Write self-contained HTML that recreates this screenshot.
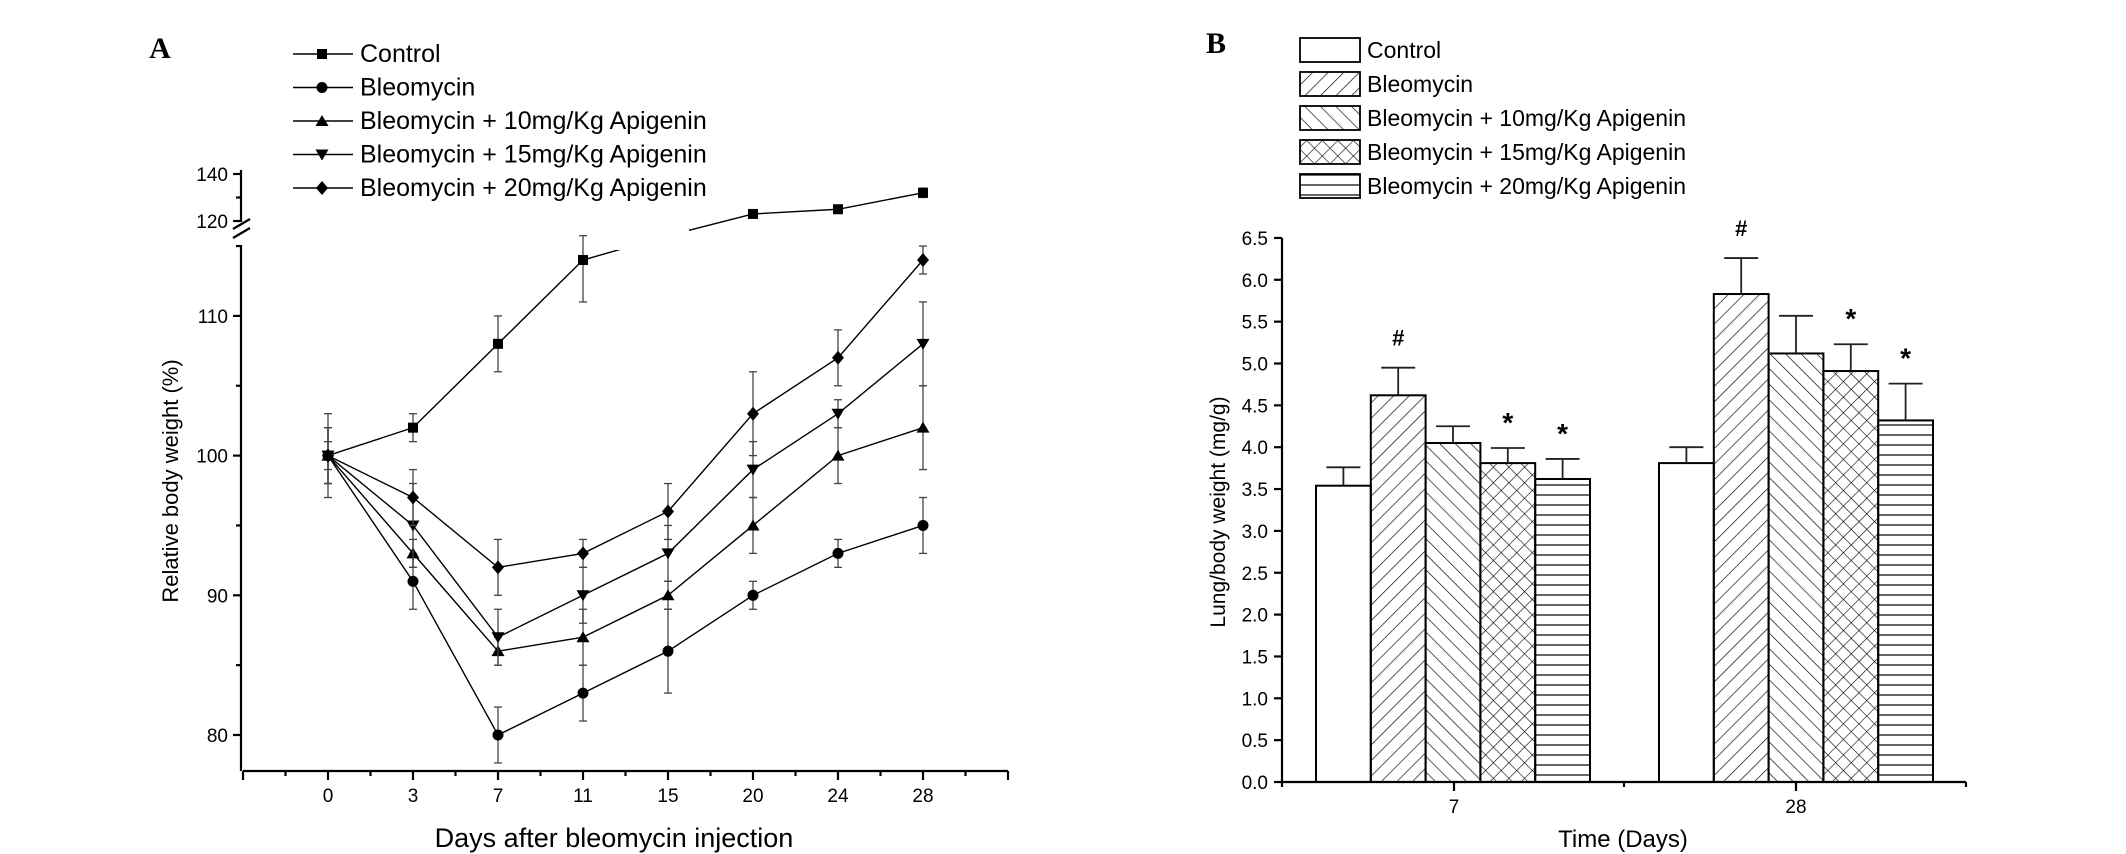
<!DOCTYPE html>
<html><head><meta charset="utf-8"><style>
html,body{margin:0;padding:0;background:#fff;}
svg{display:block;font-family:"Liberation Sans",sans-serif;}
</style></head><body>
<svg id="fig" width="2126" height="854" viewBox="0 0 2126 854" xmlns="http://www.w3.org/2000/svg">
<defs>
<pattern id="pFwd" patternUnits="userSpaceOnUse" width="11" height="11" patternTransform="rotate(45)"><line x1="0" y1="0" x2="0" y2="11" stroke="#000" stroke-width="1.3"/></pattern>
<pattern id="pBack" patternUnits="userSpaceOnUse" width="11" height="11" patternTransform="rotate(-45)"><line x1="0" y1="0" x2="0" y2="11" stroke="#000" stroke-width="1.3"/></pattern>
<pattern id="pCross" patternUnits="userSpaceOnUse" width="11" height="11" patternTransform="rotate(45)"><line x1="0" y1="0" x2="0" y2="11" stroke="#000" stroke-width="1.2"/><line x1="0" y1="0" x2="11" y2="0" stroke="#000" stroke-width="1.2"/></pattern>
<pattern id="pHoriz" patternUnits="userSpaceOnUse" width="10" height="10"><line x1="0" y1="5" x2="10" y2="5" stroke="#000" stroke-width="1.2"/></pattern>
</defs>
<g id="panelA"></g>
<g id="panelB"></g>
</svg>
<script>
// ---- Panel A data ----
const daysA = ["0","3","7","11","15","20","24","28"];
const seriesNamesA = ["Control","Bleomycin","Bleomycin + 10mg/Kg Apigenin","Bleomycin + 15mg/Kg Apigenin","Bleomycin + 20mg/Kg Apigenin"];
const controlA = [100,102,108,114,117,123,125,132];
const controlErrA = [3,1,2,3,0,1,1,2];
const bleoA = [100,91,80,83,86,90,93,95];
const bleoErrA = [2,2,2,2,3,1,1,2];
const api10A = [100,93,86,87,90,95,100,102];
const api10ErrA = [1,1,1,2,1,2,2,3];
const api15A = [100,95,87,90,93,99,103,108];
const api15ErrA = [2,3,2,2,2,2,1,3];
const api20A = [100,97,92,93,96,103,107,114];
const api20ErrA = [2,2,2,1,2,3,2,1];
const lowerTicksA = [80,90,100,110];
const upperTicksA = [120,140];
// ---- Panel B data ----
const timesB = ["7","28"];
const groupNamesB = ["Control","Bleomycin","Bleomycin + 10mg/Kg Apigenin","Bleomycin + 15mg/Kg Apigenin","Bleomycin + 20mg/Kg Apigenin"];
const controlB = [3.54,3.81];
const controlErrB = [0.22,0.19];
const bleoB = [4.62,5.83];
const bleoErrB = [0.33,0.43];
const api10B = [4.05,5.12];
const api10ErrB = [0.20,0.45];
const api15B = [3.81,4.91];
const api15ErrB = [0.18,0.32];
const api20B = [3.62,4.32];
const api20ErrB = [0.24,0.44];
const marksB = [["","#","","*","*"],["","#","","*","*"]];
const ticksB = [0,0.5,1,1.5,2,2.5,3,3.5,4,4.5,5,5.5,6,6.5];

const NS="http://www.w3.org/2000/svg";
function mk(tag,attrs,parent,text){const e=document.createElementNS(NS,tag);for(const k in attrs)e.setAttribute(k,attrs[k]);if(text!==undefined)e.textContent=text;parent.appendChild(e);return e;}

// ===== Panel A =====
const A=document.getElementById('panelA');
const xA=i=>328+85*i;
function yA(v){ if(v<=115.1) return 735-(v-80)*13.97; if(v>=120) return 221-(v-120)*2.35; return 245-(v-115.1)/(4.9)*24; }
let t=mk('text',{x:160,y:58,'font-family':'Liberation Serif,serif','font-weight':'bold','font-size':30,'text-anchor':'middle'},A,'A');


let ax=mk('g',{stroke:'#000','stroke-width':2.2,fill:'none'},A);


mk('line',{x1:243,y1:771,x2:1008,y2:771},ax);
mk('line',{x1:241,y1:245,x2:241,y2:771},ax);
mk('line',{x1:241,y1:170,x2:241,y2:222},ax);
mk('line',{x1:233,y1:229,x2:250,y2:219},ax);
mk('line',{x1:233,y1:238,x2:250,y2:228},ax);
for(let i=-1;i<=8;i++){mk('line',{x1:xA(i),y1:771,x2:xA(i),y2:780},ax); if(i<8) mk('line',{x1:xA(i)+42.5,y1:771,x2:xA(i)+42.5,y2:776},ax);}
daysA.forEach((d,i)=>{const e=mk('text',{x:xA(i),y:802,'font-size':19,'text-anchor':'middle'},A,d);

});
lowerTicksA.forEach(v=>{mk('line',{x1:233,y1:yA(v),x2:241,y2:yA(v)},ax);
const e=mk('text',{x:228,y:yA(v)+7,'font-size':19,'text-anchor':'end'},A,String(v));


mk('line',{x1:236,y1:yA(v+5),x2:241,y2:yA(v+5)},ax);});
upperTicksA.forEach(v=>{mk('line',{x1:233,y1:yA(v),x2:241,y2:yA(v)},ax);
const e=mk('text',{x:228,y:yA(v)+7,'font-size':19,'text-anchor':'end'},A,String(v));

});
mk('line',{x1:236,y1:yA(130),x2:241,y2:yA(130)},ax);
t=mk('text',{x:0,y:0,'font-size':22,'text-anchor':'middle',transform:'translate(178,481) rotate(-90)'},A,'Relative body weight (%)');


t=mk('text',{x:614,y:847,'font-size':27,'text-anchor':'middle'},A,'Days after bleomycin injection');



function marker(g,shape,x,y){
 if(shape==='sq') return mk('rect',{x:x-5,y:y-5,width:10,height:10,fill:'#000'},g);
 if(shape==='ci') return mk('circle',{cx:x,cy:y,r:5.5,fill:'#000'},g);
 if(shape==='up') return mk('polygon',{points:`${x},${y-6} ${x-6.5},${y+5} ${x+6.5},${y+5}`,fill:'#000'},g);
 if(shape==='dn') return mk('polygon',{points:`${x},${y+6} ${x-6.5},${y-5} ${x+6.5},${y-5}`,fill:'#000'},g);
 return mk('polygon',{points:`${x},${y-7} ${x+6},${y} ${x},${y+7} ${x-6},${y}`,fill:'#000'},g);
}
const seriesA=[[controlA,controlErrA,'sq','control'],[bleoA,bleoErrA,'ci','bleomycin'],[api10A,api10ErrA,'up','apigenin-10'],[api15A,api15ErrA,'dn','apigenin-15'],[api20A,api20ErrA,'di','apigenin-20']];
seriesA.forEach(([vals,errs,shape,nm],si)=>{
 const g=mk('g',{},A);
 
 
 mk('polyline',{points:vals.map((v,i)=>xA(i)+','+yA(v)).join(' '),fill:'none',stroke:'#000','stroke-width':1.4},g);
 if(si===0) mk('rect',{x:600,y:224,width:89,height:26,fill:'#fff'},g);
 vals.forEach((v,i)=>{
  if(si===0&&i===4) return;
  const e=errs[i];
  if(e>0){const eb=mk('g',{stroke:'#444','stroke-width':1.3},g);
  
  
  mk('line',{x1:xA(i),y1:yA(v-e),x2:xA(i),y2:yA(v+e)},eb);
  mk('line',{x1:xA(i)-4,y1:yA(v-e),x2:xA(i)+4,y2:yA(v-e)},eb);
  mk('line',{x1:xA(i)-4,y1:yA(v+e),x2:xA(i)+4,y2:yA(v+e)},eb);}
  const m=marker(g,shape,xA(i),yA(v));
  
  
 });
});
const legA=mk('g',{},A);


seriesNamesA.forEach((n,i)=>{
 const y=54+33.5*i;
 const g=mk('g',{},legA);
 
 
 mk('line',{x1:293,y1:y,x2:353,y2:y,stroke:'#000','stroke-width':1.4},g);
 marker(g,seriesA[i][2],322,y);
 mk('text',{x:360,y:y+8,'font-size':25},g,n);
});

// ===== Panel B =====
const B=document.getElementById('panelB');
const yB=v=>782-v*83.7;
const groupStart=[1316,1659], bw=54.8;
t=mk('text',{x:1216,y:53,'font-family':'Liberation Serif,serif','font-weight':'bold','font-size':30,'text-anchor':'middle'},B,'B');


const fills=['#fff','url(#pFwd)','url(#pBack)','url(#pCross)','url(#pHoriz)'];
const valsB=[controlB,bleoB,api10B,api15B,api20B], errsB=[controlErrB,bleoErrB,api10ErrB,api15ErrB,api20ErrB];
const slug=['control','bleomycin','apigenin-10','apigenin-15','apigenin-20'];
timesB.forEach((tm,gi)=>{
 valsB.forEach((arr,si)=>{
  const v=arr[gi], e=errsB[si][gi], x=groupStart[gi]+si*bw, cx=x+bw/2;
  const r=mk('rect',{x:x,y:yB(v),width:bw,height:yB(0)-yB(v),fill:fills[si],stroke:'#000','stroke-width':2},B);
  
  
  const eb=mk('g',{stroke:'#222','stroke-width':1.8},B);
  
  
  mk('line',{x1:cx,y1:yB(v),x2:cx,y2:yB(v+e)},eb);
  mk('line',{x1:cx-17,y1:yB(v+e),x2:cx+17,y2:yB(v+e)},eb);
  const mkTxt=marksB[gi][si];
  if(mkTxt){const a=mk('text',{x:cx,y:yB(v+e)-(mkTxt==='#'?22:16),'font-size':mkTxt==='#'?22:28,'font-weight':'bold','text-anchor':'middle'},B,mkTxt);
   
   }
 });
});
const axB=mk('g',{stroke:'#000','stroke-width':2.2},B);


mk('line',{x1:1282,y1:782,x2:1966,y2:782},axB);
mk('line',{x1:1282,y1:238,x2:1282,y2:782},axB);
[1282,1454,1624,1796,1966].forEach((x,i)=>mk('line',{x1:x,y1:782,x2:x,y2:i%2?791:787},axB));
timesB.forEach((tm,i)=>{const e=mk('text',{x:[1454,1796][i],y:813,'font-size':19,'text-anchor':'middle'},B,tm);

});
ticksB.forEach(v=>{mk('line',{x1:1274,y1:yB(v),x2:1282,y2:yB(v)},axB);
const e=mk('text',{x:1268,y:yB(v)+7,'font-size':19,'text-anchor':'end'},B,v.toFixed(1));

});
t=mk('text',{x:0,y:0,'font-size':21,'text-anchor':'middle',transform:'translate(1225,512) rotate(-90)'},B,'Lung/body weight (mg/g)');


t=mk('text',{x:1623,y:847,'font-size':24,'text-anchor':'middle'},B,'Time (Days)');


const legB=mk('g',{},B);


groupNamesB.forEach((n,i)=>{
 const y=50+34*i;
 const g=mk('g',{},legB);
 
 
 mk('rect',{x:1300,y:y-12,width:60,height:24,fill:fills[i],stroke:'#000','stroke-width':1.8},g);
 mk('text',{x:1367,y:y+8,'font-size':23},g,n);
});
</script>
</body></html>
